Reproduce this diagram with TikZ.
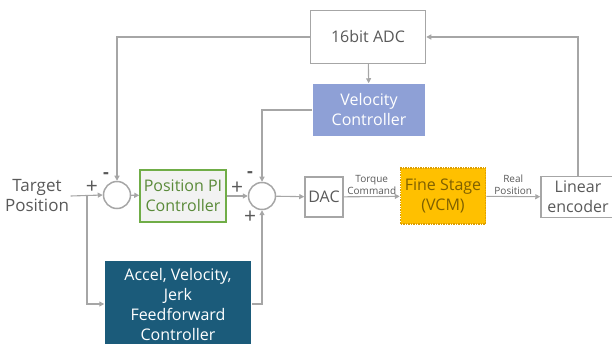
\documentclass[tikz,border=0pt]{standalone}
\usepackage{fontspec}
\setmainfont{Open Sans}
\usetikzlibrary{arrows.meta, positioning, calc}
\definecolor{linegray}{HTML}{A6A6A6}
\definecolor{txtgray}{HTML}{595959}
\definecolor{pigreen}{HTML}{70AD47}
\definecolor{pifill}{HTML}{F2F2F2}
\definecolor{velblue}{HTML}{8EA0D6}
\definecolor{ffblue}{HTML}{1B5B7A}
\definecolor{vcmorange}{HTML}{FFC000}
\definecolor{vcmedge}{HTML}{E0A000}
\definecolor{vcmtext}{HTML}{7F6000}

\begin{document}
\begin{tikzpicture}[
    x=1pt, y=-1pt,
    >={Triangle[length=5pt,width=5pt]},
    box/.style={draw=linegray, line width=1.5pt, align=center, text=txtgray,
                font=\fontsize{16}{20}\selectfont, inner sep=1pt},
    pibox/.style={box, draw=pigreen, fill=pifill, text=pigreen!80!black},
    velbox/.style={box, draw=none, fill=velblue, text=white},
    ffbox/.style={box, draw=none, fill=ffblue, text=white},
    vcmbox/.style={box, draw=vcmedge, densely dotted, fill=vcmorange, text=vcmtext},
    sumnode/.style={circle, draw=linegray, line width=1.5pt, minimum size=27pt, inner sep=0pt},
    arr/.style={->, draw=linegray, line width=1.1pt},
    lbl/.style={font=\fontsize{10}{12.5}\selectfont, text=txtgray, align=center, inner sep=1pt},
    sgn/.style={font=\fontsize{21}{21}\selectfont, text=txtgray, inner sep=0pt},
    minus/.style={sgn, font=\fontsize{18}{18}\selectfont\bfseries},
]
\useasboundingbox (0,0) rectangle (612,344);
% === Forward path ===
\node[box, draw=none, font=\fontsize{17}{20}\selectfont] (target) at (37,196) {Target\\Position};
\coordinate (split) at (87,196);
\node[sumnode] (sum1) at (117,195) {};
\node[pibox, minimum width=86pt, minimum height=52pt] (pi) at (183,196) {Position PI\\Controller};
\node[sumnode] (sum2) at (262,196) {};
\node[box, minimum width=38pt, minimum height=40pt] (dac) at (324,197) {DAC};
\node[vcmbox, minimum width=85pt, minimum height=56pt] (vcm) at (443,196) {Fine Stage\\(VCM)};
\node[box, minimum width=74pt, minimum height=41pt] (enc) at (578,197) {Linear\\encoder};
% === Feedback and feedforward blocks ===
\node[box, fill=white, minimum width=115pt, minimum height=53pt] (adc) at (368,37) {16bit ADC};
\node[velbox, minimum width=112pt, minimum height=52pt] (vel) at (369,110) {Velocity\\Controller};
\node[ffbox, minimum width=146pt, minimum height=86pt] (ff) at (178,304) {Accel, Velocity,\\Jerk\\Feedforward\\Controller};
% signs at the summing junctions
\node[sgn] (p1) at (92,187) {+};
\node[minus] (m1) at (106,176) {-};
\node[sgn] (p2) at (237,188) {+};
\node[minus] (m2) at (250,175) {-};
\node[sgn] (p3) at (250,217) {+};
% === Connectors ===
\draw[arr] (target.east) -- (sum1.west);
\draw[arr] (split) |- (ff.west);
\draw[arr] (sum1) -- (pi);
\draw[arr] (pi) -- (sum2);
\draw[arr] (sum2) -- (dac);
\draw[arr] (dac) -- node[lbl, above] {Torque\\Command} (vcm);
\draw[arr] (vcm) -- node[lbl, above] {Real\\Position} (enc);
\draw[arr] (enc.north) |- (adc.east);
\draw[arr] (adc.west) -| (sum1.north);
\draw[arr] (adc) -- (vel);
\draw[arr] (vel.west) -| (sum2.north);
\draw[arr] (ff.east) -| (sum2.south);
\end{tikzpicture}
\end{document}
